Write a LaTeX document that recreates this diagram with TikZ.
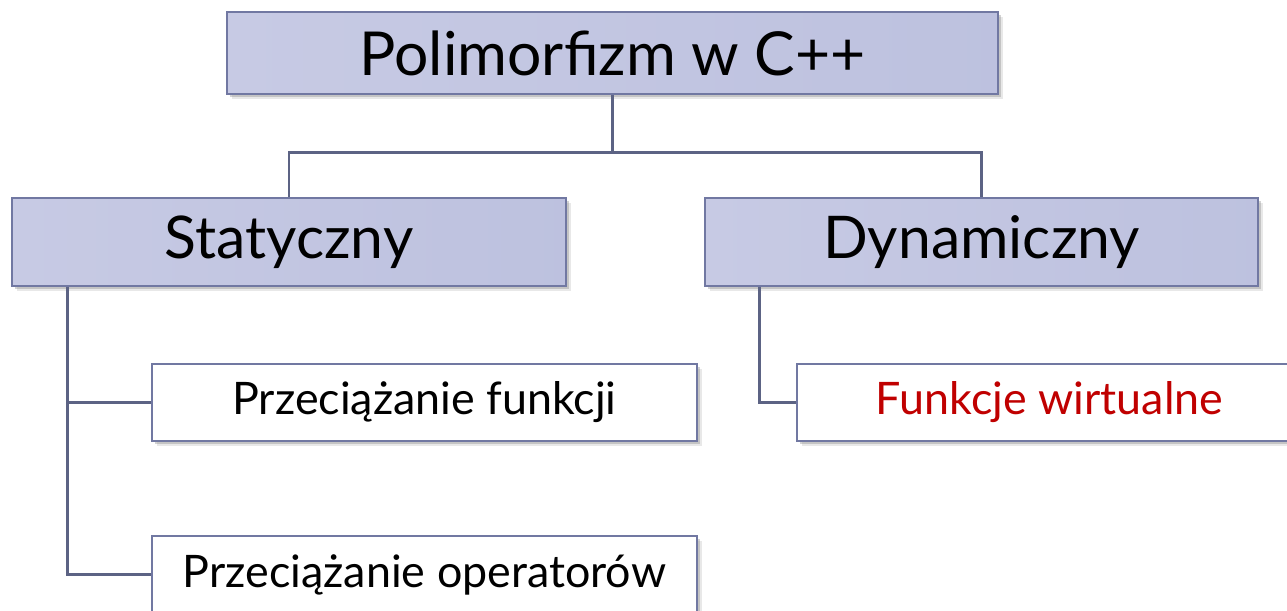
\documentclass[tikz,border=0pt]{standalone}
\usepackage{fontspec}
\setmainfont{Lato}
\usetikzlibrary{shadows}
\usetikzlibrary{positioning}
\definecolor{boxedge}{HTML}{7178A2}
\definecolor{boxlight}{HTML}{C7CAE4}
\definecolor{boxmid}{HTML}{A6ADD3}
\definecolor{linkcol}{HTML}{5C6384}
\definecolor{hot}{HTML}{C00000}
\tikzset{softshadow/.style = {drop shadow={shadow xshift=3pt, shadow yshift=-3pt, opacity=0.18},
                              drop shadow={shadow xshift=1.5pt, shadow yshift=-1.5pt, opacity=0.35}}}
\tikzset{head/.style = {draw=boxedge, line width=0.9pt, inner sep=0, softshadow,
                        left color=boxlight, middle color=boxmid, right color=boxlight!70!boxmid,
                        font=\fontsize{33.5}{40}\selectfont}}
\tikzset{leaf/.style = {draw=boxedge, line width=1.4pt, inner sep=0, fill=white, softshadow,
                        minimum width=10.9cm, minimum height=1.54cm, font=\fontsize{25.5}{30}\selectfont}}
\tikzset{link/.style = {draw=linkcol, line width=1.7pt}}

\begin{document}
\begin{tikzpicture}
      \useasboundingbox (0, 0) rectangle (25.74, 12.2);
      \clip (0, 0) rectangle (25.74, 12.2);

      \node [head, minimum width=15.42cm, minimum height=1.64cm, font=\fontsize{34.5}{40}\selectfont]
            (top) at (12.25, 11.14) {Polimorfizm w C++};
      \node [head, minimum width=11.08cm, minimum height=1.76cm] (stat) at (5.78, 7.36) {Statyczny};
      \node [head, minimum width=11.06cm, minimum height=1.76cm] (dyn) at (19.63, 7.36) {Dynamiczny};

      \node [leaf] (fun) at (8.49, 4.15) {Przeciążanie funkcji};
      \node [leaf] (ops) at (8.49, 0.71) {Przeciążanie operatorów};
      \node [leaf, text=hot, minimum width=10.1cm] (virt) at (20.99, 4.15) {Funkcje wirtualne};

      \draw [link] (top.south) -- ++(0, -1.16) coordinate (split);
      \draw [link] (stat.north) |- (split) -| (dyn.north);

      \draw [link] ([xshift=1.12cm]stat.south west) |- (ops.west);
      \draw [link] (fun.west) -| ([xshift=1.12cm]stat.south west);
      \draw [link] ([xshift=1.1cm]dyn.south west) |- (virt.west);

    \end{tikzpicture}
\end{document}
